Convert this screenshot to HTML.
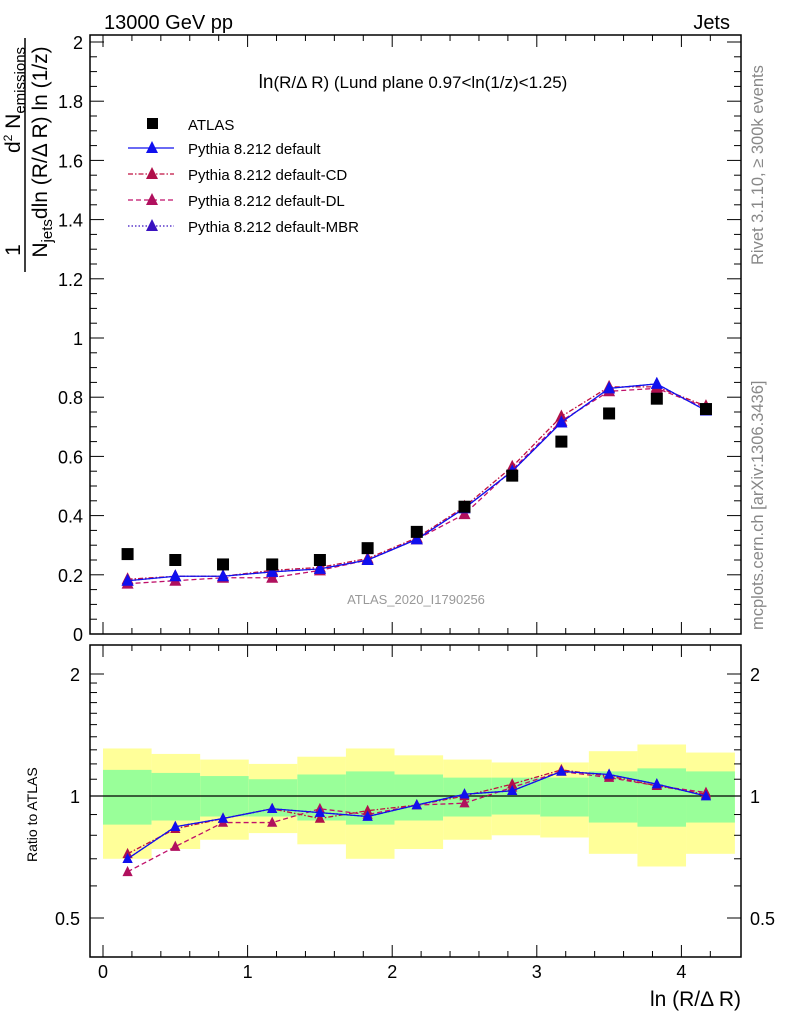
<!DOCTYPE html>
<html><head><meta charset="utf-8"><style>
body{margin:0;background:#fff}
svg{display:block;font-family:"Liberation Sans",sans-serif}
</style></head><body>
<svg id="chart" width="786" height="1024" viewBox="0 0 786 1024" xmlns="http://www.w3.org/2000/svg">
<g id="bands"></g>
<g id="ticks" stroke="#000" stroke-width="1"></g>
<g id="marks"></g>
<rect x="90" y="35" width="651" height="599" fill="none" stroke="#000" stroke-width="1.5"/>
<rect x="90" y="645" width="651" height="312" fill="none" stroke="#000" stroke-width="1.5"/>
<text x="104" y="29" font-size="20">13000 GeV pp</text>
<text x="730" y="29" font-size="20" text-anchor="end">Jets</text>
<text x="413" y="88" font-size="17" text-anchor="middle"><tspan font-size="19">ln</tspan>(R/Δ R) (Lund plane 0.97&lt;ln(1/z)&lt;1.25)</text>
<text x="416" y="604" font-size="13" fill="#999" text-anchor="middle">ATLAS_2020_I1790256</text>
<text transform="translate(763,265) rotate(-90)" font-size="16.5" fill="#888">Rivet 3.1.10, ≥ 300k events</text>
<text transform="translate(763,630) rotate(-90)" font-size="16.5" fill="#888">mcplots.cern.ch [arXiv:1306.3436]</text>
<text transform="translate(37,862) rotate(-90)" font-size="14">Ratio to ATLAS</text>
<text x="741" y="1006" font-size="21" text-anchor="end">ln (R/Δ R)</text>
<g font-size="21">
<text transform="translate(20,250) rotate(-90)" text-anchor="middle">1</text>
<line x1="25" y1="38" x2="25" y2="272" stroke="#000" stroke-width="1.5"/>
<text transform="translate(20,100) rotate(-90)" text-anchor="middle">d<tspan font-size="12" dy="-8">2</tspan><tspan dy="8"> N</tspan><tspan font-size="15" dy="5">emissions</tspan></text>
<text transform="translate(47,152) rotate(-90)" text-anchor="middle">N<tspan font-size="15" dy="5">jets</tspan><tspan dy="-5">dln (R/Δ R) ln (1/z)</tspan></text>
</g>
<g id="legend" font-size="15"></g>
<g id="labels" font-size="18"></g>
</svg>
<script>
const xCenters=[0.17,0.5,0.83,1.17,1.5,1.83,2.17,2.5,2.83,3.17,3.5,3.83,4.17];
const binEdges=[0,0.336,0.672,1.008,1.344,1.68,2.016,2.352,2.688,3.024,3.36,3.696,4.032,4.37];
const atlas=[0.27,0.25,0.235,0.235,0.25,0.29,0.345,0.43,0.535,0.65,0.745,0.795,0.76];
const pyDefault=[0.18,0.195,0.195,0.21,0.22,0.25,0.32,0.425,0.55,0.715,0.83,0.845,0.755];
const pyCD=[0.185,0.195,0.195,0.215,0.225,0.255,0.325,0.43,0.565,0.735,0.835,0.835,0.77];
const pyDL=[0.17,0.18,0.19,0.19,0.215,0.25,0.32,0.405,0.555,0.72,0.82,0.83,0.765];
const pyMBR=[0.18,0.195,0.195,0.21,0.22,0.25,0.32,0.425,0.55,0.715,0.83,0.845,0.755];
const rDefault=[0.70,0.84,0.88,0.93,0.91,0.89,0.95,1.01,1.03,1.15,1.13,1.07,1.0];
const rCD=[0.72,0.83,0.88,0.93,0.88,0.92,0.95,1.0,1.07,1.16,1.12,1.06,1.01];
const rDL=[0.65,0.75,0.86,0.86,0.93,0.90,0.95,0.96,1.05,1.15,1.11,1.06,1.02];
const rMBR=[0.70,0.84,0.88,0.93,0.91,0.89,0.95,1.01,1.03,1.15,1.13,1.07,1.0];
const greenHi=[1.16,1.14,1.12,1.10,1.13,1.15,1.13,1.11,1.11,1.11,1.15,1.17,1.15];
const greenLo=[0.85,0.87,0.89,0.89,0.87,0.85,0.87,0.89,0.90,0.89,0.86,0.84,0.86];
const yellowHi=[1.31,1.27,1.23,1.20,1.25,1.31,1.26,1.23,1.21,1.21,1.29,1.34,1.28];
const yellowLo=[0.70,0.74,0.78,0.81,0.76,0.70,0.74,0.78,0.80,0.79,0.72,0.67,0.72];
const xTicks=[0,1,2,3,4];
const yTicks=[0,0.2,0.4,0.6,0.8,1,1.2,1.4,1.6,1.8,2];
const yTickLabels=["0","0.2","0.4","0.6","0.8","1","1.2","1.4","1.6","1.8","2"];
const rTicks=[0.5,1,2];
const rTickLabels=["0.5","1","2"];

const NS="http://www.w3.org/2000/svg";
const X=v=>103+144.6*v;
const Y=v=>634-296*v;
const R=v=>796-122*Math.log2(v);
function mk(tag,attrs,parent){const e=document.createElementNS(NS,tag);for(const k in attrs)e.setAttribute(k,attrs[k]);parent.appendChild(e);return e;}
const bands=document.getElementById('bands'),ticks=document.getElementById('ticks'),marks=document.getElementById('marks'),labels=document.getElementById('labels'),legend=document.getElementById('legend');

for(let i=0;i<xCenters.length;i++){
  const x0=X(binEdges[i]),w=X(binEdges[i+1])-x0;
  const y=mk('rect',{x:x0,y:R(yellowHi[i]),width:w,height:R(yellowLo[i])-R(yellowHi[i]),fill:'#ffff99'},bands);
  
  
  const g=mk('rect',{x:x0,y:R(greenHi[i]),width:w,height:R(greenLo[i])-R(greenHi[i]),fill:'#99ff99'},bands);
  
  
}
const ul=mk('line',{x1:90,x2:741,y1:R(1),y2:R(1),stroke:'#000','stroke-width':1.2},bands);



for(let v=0;v<=4.4;v+=0.2){
  const major=Math.abs(v-Math.round(v))<1e-6;const L=major?12:6;const px=X(v);
  mk('line',{x1:px,x2:px,y1:634,y2:634-L},ticks);mk('line',{x1:px,x2:px,y1:35,y2:35+L},ticks);
  mk('line',{x1:px,x2:px,y1:957,y2:957-L},ticks);mk('line',{x1:px,x2:px,y1:645,y2:645+L},ticks);
}
xTicks.forEach(v=>{const t=mk('text',{x:X(v),y:978,'text-anchor':'middle'},labels);t.textContent=String(v);

});
for(let v=0;v<=2.001;v+=0.05){
  const major=Math.abs(v*5-Math.round(v*5))<1e-6;const L=major?14:7;const py=Y(v);
  mk('line',{x1:90,x2:90+L,y1:py,y2:py},ticks);mk('line',{x1:741,x2:741-L,y1:py,y2:py},ticks);
}
yTicks.forEach((v,i)=>{const t=mk('text',{x:83,y:Y(v)+7,'text-anchor':'end'},labels);t.textContent=yTickLabels[i];

});
[0.5,0.6,0.7,0.8,0.9,1,1.1,1.2,1.3,1.4,1.5,1.6,1.7,1.8,1.9,2].forEach(v=>{
  const major=rTicks.includes(v);const L=major?14:7;const py=R(v);
  mk('line',{x1:90,x2:90+L,y1:py,y2:py},ticks);mk('line',{x1:741,x2:741-L,y1:py,y2:py},ticks);
});
rTicks.forEach((v,i)=>{
  const t=mk('text',{x:80,y:R(v)+7,'text-anchor':'end'},labels);t.textContent=rTickLabels[i];
  
  
  const t2=mk('text',{x:750,y:R(v)+7},labels);t2.textContent=rTickLabels[i];
  
  
});

const series=[
 {name:'Pythia 8.212 default-MBR',vals:pyMBR,r:rMBR,color:'#3a12c0',dash:'1.5,2',tri:'#3a12c0'},
 {name:'Pythia 8.212 default-DL',vals:pyDL,r:rDL,color:'#c0106a',dash:'5,3',tri:'#b0105e'},
 {name:'Pythia 8.212 default-CD',vals:pyCD,r:rCD,color:'#c01040',dash:'5,2,1.5,2',tri:'#b0104a'},
 {name:'Pythia 8.212 default',vals:pyDefault,r:rDefault,color:'#1010ee',dash:'',tri:'#1010ee'}
];
function tri(cx,cy,col,parent,nm,s){s=s||1;const p=mk('polygon',{points:`${cx},${cy-7*s} ${cx-6*s},${cy+5*s} ${cx+6*s},${cy+5*s}`,fill:col},parent);

}
series.forEach((s,si)=>{
  const pts=xCenters.map((x,i)=>X(x)+','+Y(s.vals[i])).join(' ');
  const l=mk('polyline',{points:pts,fill:'none',stroke:s.color,'stroke-width':1.3,'stroke-dasharray':s.dash},marks);
  
  
  const rp=xCenters.map((x,i)=>X(x)+','+R(s.r[i])).join(' ');
  const l2=mk('polyline',{points:rp,fill:'none',stroke:s.color,'stroke-width':1.3,'stroke-dasharray':s.dash},marks);
  
  
  xCenters.forEach((x,i)=>{tri(X(x),Y(s.vals[i]),s.tri,marks,'main-point');tri(X(x),R(s.r[i]),s.tri,marks,'ratio-point',0.85);});
});
xCenters.forEach((x,i)=>{const r=mk('rect',{x:X(x)-6,y:Y(atlas[i])-6,width:12,height:12,fill:'#000'},marks);

});

const lr=mk('rect',{x:147,y:118,width:11,height:11,fill:'#000'},legend);


const lt=mk('text',{x:188,y:130},legend);lt.textContent='ATLAS';


series.slice().reverse().forEach((s,i)=>{
  const y=150+26*i;
  const ll=mk('line',{x1:128,x2:174,y1:y-2,y2:y-2,stroke:s.color,'stroke-width':1.3,'stroke-dasharray':s.dash},legend);
  
  
  tri(152,y-2,s.tri,legend,'legend-marker');
  const t=mk('text',{x:188,y:y+4},legend);t.textContent=s.name;
  
  
});
</script>
</body></html>
